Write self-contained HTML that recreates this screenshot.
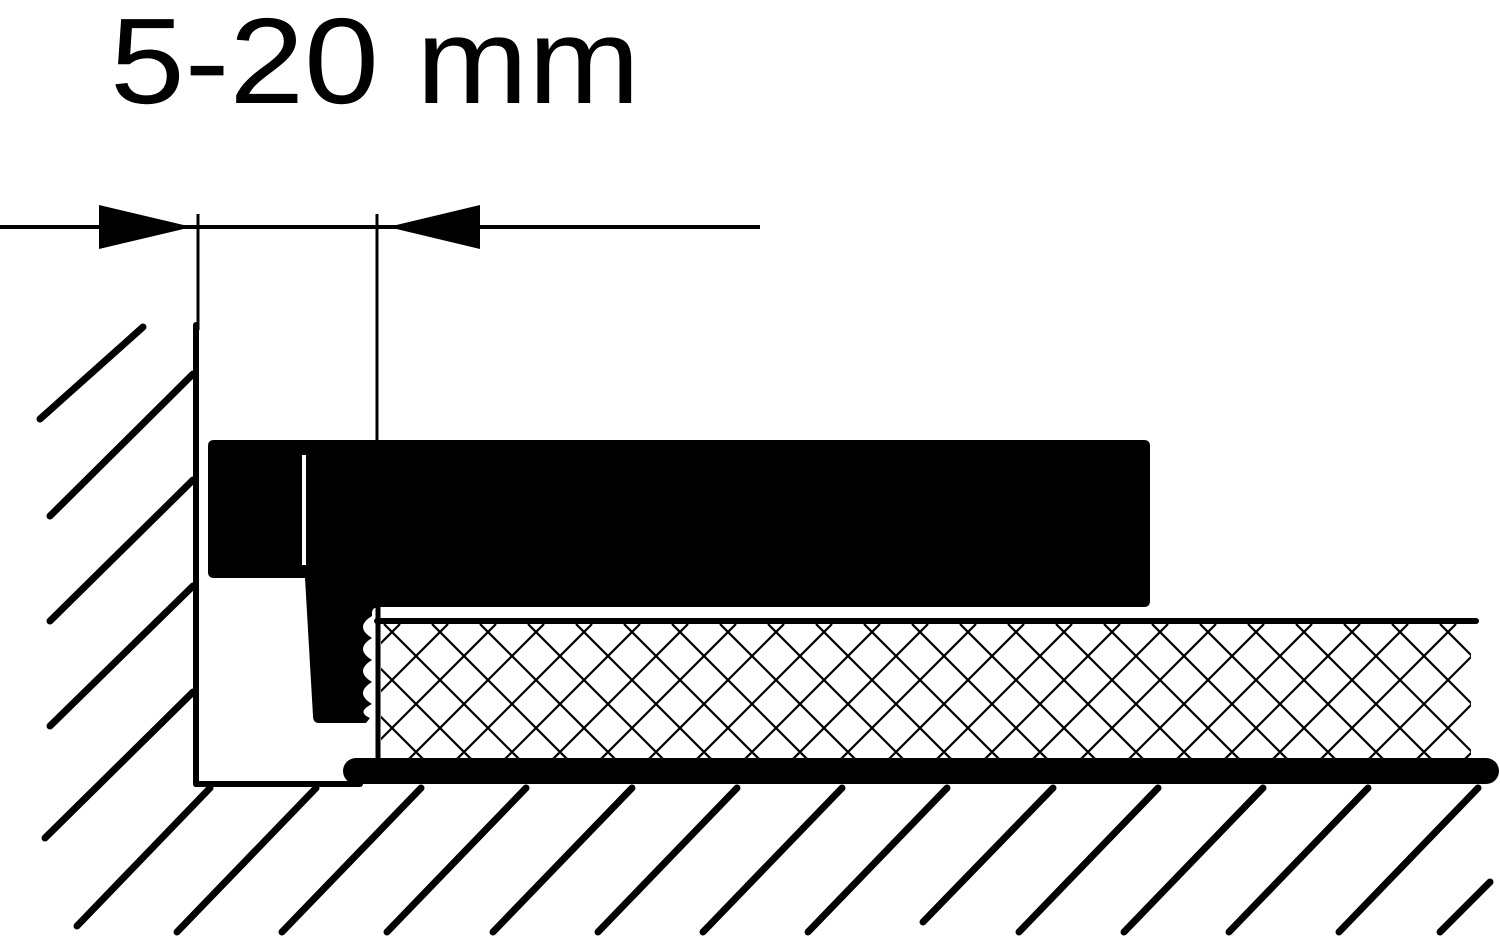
<!DOCTYPE html>
<html><head><meta charset="utf-8"><style>
html,body{margin:0;padding:0;background:#fff;}
svg{display:block;}
</style></head><body>
<svg width="1500" height="940" viewBox="0 0 1500 940" xmlns="http://www.w3.org/2000/svg">
<defs>
<clipPath id="hc"><rect x="381" y="624" width="1090" height="134"/></clipPath>
</defs>
<text x="110" y="103" font-family="Liberation Sans, sans-serif" font-size="122" textLength="530" lengthAdjust="spacingAndGlyphs" fill="#000">5-20 mm</text>

<line x1="0" y1="227" x2="760" y2="227" stroke="#000" stroke-width="4"/>
<polygon points="99,205 99,249 192,227" fill="#000"/>
<polygon points="480,205 480,249 388,227" fill="#000"/>
<line x1="198" y1="214" x2="198" y2="330" stroke="#000" stroke-width="3"/>
<line x1="377" y1="214" x2="377" y2="442" stroke="#000" stroke-width="3"/>

<line x1="196" y1="325" x2="196" y2="784" stroke="#000" stroke-width="6" stroke-linecap="round"/>
<g stroke="#000" stroke-width="7" stroke-linecap="round">
<line x1="143" y1="327" x2="40" y2="419"/>
<line x1="193" y1="374" x2="50" y2="516"/>
<line x1="193" y1="480" x2="50" y2="621"/>
<line x1="193" y1="586" x2="50" y2="726"/>
<line x1="193" y1="692" x2="45" y2="838"/>
</g>
<line x1="196" y1="784" x2="360" y2="784" stroke="#000" stroke-width="6" stroke-linecap="round"/>
<g stroke="#000" stroke-width="7" stroke-linecap="round">
<line x1="210" y1="788" x2="77" y2="926"/>
<line x1="316" y1="788" x2="177" y2="932"/>
<line x1="421" y1="788" x2="282" y2="932"/>
<line x1="526" y1="788" x2="387" y2="932"/>
<line x1="632" y1="788" x2="493" y2="932"/>
<line x1="737" y1="788" x2="598" y2="932"/>
<line x1="842" y1="788" x2="703" y2="932"/>
<line x1="947" y1="788" x2="808" y2="932"/>
<line x1="1053" y1="788" x2="923" y2="922"/>
<line x1="1158" y1="788" x2="1019" y2="932"/>
<line x1="1263" y1="788" x2="1124" y2="932"/>
<line x1="1368" y1="788" x2="1229" y2="932"/>
<line x1="1478" y1="788" x2="1339" y2="932"/>
</g>
<line x1="1490" y1="882" x2="1440" y2="932" stroke="#000" stroke-width="7" stroke-linecap="round"/>

<g clip-path="url(#hc)" stroke="#000" stroke-width="2.2" fill="none">
<path d="M240,624 l140,140 M288,624 l140,140 M336,624 l140,140 M384,624 l140,140 M432,624 l140,140 M480,624 l140,140 M528,624 l140,140 M576,624 l140,140 M624,624 l140,140 M672,624 l140,140 M720,624 l140,140 M768,624 l140,140 M816,624 l140,140 M864,624 l140,140 M912,624 l140,140 M960,624 l140,140 M1008,624 l140,140 M1056,624 l140,140 M1104,624 l140,140 M1152,624 l140,140 M1200,624 l140,140 M1248,624 l140,140 M1296,624 l140,140 M1344,624 l140,140 M1392,624 l140,140 M1440,624 l140,140"/>
<path d="M400,624 l-140,140 M448,624 l-140,140 M496,624 l-140,140 M544,624 l-140,140 M592,624 l-140,140 M640,624 l-140,140 M688,624 l-140,140 M736,624 l-140,140 M784,624 l-140,140 M832,624 l-140,140 M880,624 l-140,140 M928,624 l-140,140 M976,624 l-140,140 M1024,624 l-140,140 M1072,624 l-140,140 M1120,624 l-140,140 M1168,624 l-140,140 M1216,624 l-140,140 M1264,624 l-140,140 M1312,624 l-140,140 M1360,624 l-140,140 M1408,624 l-140,140 M1456,624 l-140,140 M1504,624 l-140,140 M1552,624 l-140,140 M1600,624 l-140,140"/>
</g>
<line x1="377" y1="621" x2="1476" y2="621" stroke="#000" stroke-width="6" stroke-linecap="round"/>
<line x1="378" y1="607" x2="378" y2="762" stroke="#000" stroke-width="5"/>
<rect x="343" y="758" width="1156" height="26" rx="13" fill="#000"/>

<path fill="#000" d="M214,440 H1144 Q1150,440 1150,446 V601 Q1150,607 1144,607 H380 Q372,607 372,613 V616 Q354,627 372,638 Q354,649 372,660 Q354,671 372,682 Q354,693 372,704 Q356,712 370,718 L366,723 H319 Q313,723 313,716 L305,578 H214 Q208,578 208,572 V446 Q208,440 214,440 Z"/>
<rect x="302" y="455" width="4" height="110" fill="#fff"/>
</svg>
</body></html>
